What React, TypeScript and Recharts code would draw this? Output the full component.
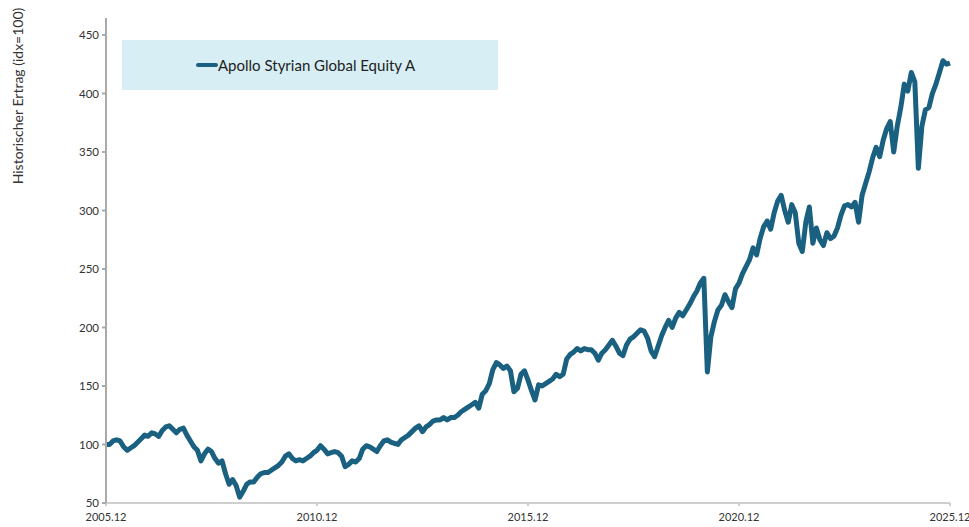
import { LineChart, Line, XAxis, YAxis } from "recharts";

// monthly index values, 2005.12 .. 2025.12 (241 points)
const values: number[] = [
  // 2005.12 - 2006.12
  100, 100, 103, 104, 103, 98, 95, 97, 99, 102, 105, 108, 107,
  // 2007
  110, 109, 107, 112, 115, 116, 113, 110, 113, 114, 108, 103,
  // 2008
  98, 95, 86, 92, 96, 94, 88, 84, 86, 75, 66, 70,
  // 2009
  65, 55, 60, 66, 68, 68, 72, 75, 76, 76, 78, 80,
  // 2010
  82, 85, 90, 92, 88, 86, 87, 86, 88, 90, 93, 95,
  // 2011
  99, 96, 92, 93, 94, 93, 90, 81, 83, 86, 85, 88,
  // 2012
  96, 99, 98, 96, 94, 99, 103, 104, 102, 101, 100, 104,
  // 2013
  106, 108, 111, 114, 116, 111, 115, 117, 120, 121, 121, 123,
  // 2014
  121, 123, 123, 125, 128, 130, 132, 134, 136, 131, 143, 146,
  // 2015
  152, 164, 170, 168, 165, 167, 163, 145, 148, 160, 163, 155,
  // 2016
  146, 138, 151, 150, 152, 154, 156, 160, 158, 160, 173, 177,
  // 2017
  179, 182, 180, 182, 181, 181, 178, 172, 178, 181, 185, 189,
  // 2018
  184, 178, 176, 185, 190, 192, 195, 198, 197, 191, 180, 175,
  // 2019
  184, 193, 200, 206, 200, 208, 213, 210, 215, 220, 226, 231,
  // 2020
  238, 242, 162, 192, 205, 215, 219, 228, 222, 217, 233, 238,
  // 2021
  246, 252, 258, 268, 262, 276, 286, 291, 284, 298, 308, 313,
  // 2022
  300, 290, 305, 298, 272, 265, 290, 303, 272, 285, 275, 270,
  // 2023
  281, 276, 278, 285, 296, 304, 305, 303, 307, 290, 313, 323,
  // 2024
  333, 345, 354, 346, 360, 370, 376, 350, 372, 388, 408, 402,
  // 2025
  418, 410, 336, 372, 386, 388, 400, 408, 418, 428, 425, 426,
];

const tickMonths = [0, 60, 120, 180, 240];
const tickLabels = ["2005.12", "2010.12", "2015.12", "2020.12", "2025.12"];
const yTicks = [50, 100, 150, 200, 250, 300, 350, 400, 450];
const seriesName = "Apollo Styrian Global Equity A";
const yTitle = "Historischer Ertrag (idx=100)";

const data = values.map((v, i) => ({ m: i, v }));

const FONT = "Lato, 'Noto Sans', sans-serif";
const LINE = "#1a6081";

function LegendBox() {
  return (
    <div
      style={{
        position: "absolute",
        left: 122,
        top: 40,
        width: 376,
        height: 50,
        background: "#d7eef5",
        display: "flex",
        alignItems: "center",
        fontFamily: FONT,
        fontSize: 15,
        color: "#222",
      }}
    >
      <span
        style={{
          display: "inline-block",
          width: 22,
          height: 4,
          borderRadius: 2,
          background: LINE,
          marginLeft: 74,
        }}
      />
      <span>{seriesName}</span>
    </div>
  );
}

export default function App() {
  return (
    <div style={{ position: "absolute", left: 0, top: 0, width: 969, height: 527 }}>
      <LineChart
        width={969}
        height={527}
        data={data}
        margin={{ top: 18, right: 19, bottom: 0, left: 46 }}
      >
        <XAxis
          dataKey="m"
          type="number"
          domain={[0, 240]}
          ticks={tickMonths}
          tickFormatter={(m: number) => tickLabels[tickMonths.indexOf(m)]}
          height={24}
          tickSize={3}
          tickMargin={7}
          stroke="#cfcfcf"
          strokeWidth={2}
          tick={{ fill: "#333", fontSize: 11, fontFamily: FONT }}
        />
        <YAxis
          type="number"
          domain={[50, 464.5]}
          ticks={yTicks}
          width={60}
          tickSize={4}
          tickMargin={3}
          stroke="#aaaaaa"
          strokeWidth={2}
          tick={{ fill: "#333", fontSize: 11.5, fontFamily: FONT }}
          label={() => (
            <text
              x={17}
              y={96}
              transform="rotate(-90 17 96)"
              textAnchor="middle"
              dominantBaseline="central"
              fill="#333"
              fontSize={14}
              fontFamily={FONT}
            >
              {yTitle}
            </text>
          )}
        />
        <Line
          dataKey="v"
          name={seriesName}
          stroke={LINE}
          strokeWidth={5}
          dot={false}
          strokeLinejoin="round"
          isAnimationActive={false}
        />
      </LineChart>
      <LegendBox />
    </div>
  );
}
